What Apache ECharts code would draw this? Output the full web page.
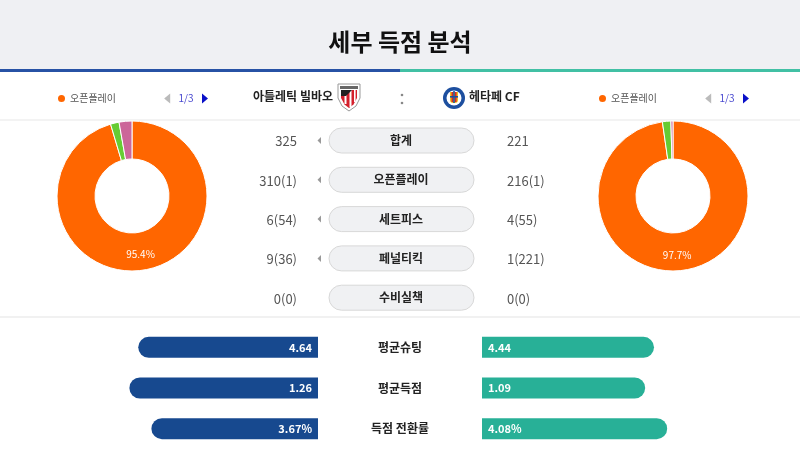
<!DOCTYPE html>
<html>
<head>
<meta charset="utf-8">
<script src="https://cdn.jsdelivr.net/npm/echarts@6/dist/echarts.min.js"></script>
<style>
html,body{margin:0;padding:0;background:#fff}
#main{width:800px;height:450px}
</style>
</head>
<body>
<div id="main"></div>
<script>
var FONT = "'Noto Sans CJK KR', 'Noto Sans', sans-serif";

var titleText = '세부 득점 분석';
var homeName = '아틀레틱 빌바오';
var awayName = '헤타페 CF';

// 도넛 차트 (득점 유형)
var pieCategories = ['오픈플레이', '세트피스', '페널티킥'];
var pieColors = ['#ff6600', '#66cc33', '#cc6699'];
var homePie = [310, 6, 9];
var awayPie = [216, 4, 1];

// 가운데 표
var statLabels = ['합계', '오픈플레이', '세트피스', '페널티킥', '수비실책'];
var homeStats = ['325', '310(1)', '6(54)', '9(36)', '0(0)'];
var awayStats = ['221', '216(1)', '4(55)', '1(221)', '0(0)'];

// 하단 막대
var barCategories = ['평균슈팅', '평균득점', '득점 전환률'];
var homeAvg = [4.64, 1.26, 3.67];
var awayAvg = [4.44, 1.09, 4.08];
var avgUnits = ['', '', '%'];

var chart = echarts.init(document.getElementById('main'));

function pieData(vals){
  return pieCategories.map(function(n, i){ return {name: n, value: vals[i], itemStyle: {color: pieColors[i]}}; });
}
function share(a, b){ return a.map(function(v, i){ return v / (v + b[i]); }); }

function pieSeries(vals, cx){
  return {
    type: 'pie', center: [cx, 196], radius: [37, 75], startAngle: 90,
    silent: true, avoidLabelOverlap: false,
    itemStyle: {borderColor: '#fff', borderWidth: 1},
    label: {
      show: true, position: 'inside', color: '#fff', fontSize: 10, fontFamily: FONT,
      formatter: function(p){ return p.percent > 5 ? p.percent.toFixed(1) + '%' : ''; }
    },
    labelLine: {show: false},
    data: pieData(vals)
  };
}

function legendAt(left){
  return {
    type: 'scroll', orient: 'horizontal', left: left, top: 93, width: 152, padding: 0,
    data: pieCategories, icon: 'circle', itemWidth: 9, itemHeight: 9, itemGap: 90,
    textStyle: {fontSize: 10, color: '#555', fontFamily: FONT, padding: [0, 0, 0, -1]},
    pageIconSize: 10, pageButtonItemGap: 4, pageButtonGap: 6,
    pageIconColor: '#0a10c8', pageIconInactiveColor: '#bbb',
    pageTextStyle: {color: '#4a4ad0', fontSize: 10, fontFamily: FONT},
    selectedMode: false
  };
}

// 배경, 제목, 팀 정보, 표
var graphics = [
  {type: 'rect', shape: {x: 0, y: 0, width: 800, height: 69}, style: {fill: '#eff0f3'}, silent: true},
  {type: 'text', x: 400, y: 42, silent: true,
   style: {text: titleText, fill: '#111', font: 'bold 24px ' + FONT, align: 'center', verticalAlign: 'middle'}},
  {type: 'rect', shape: {x: 0, y: 69, width: 400, height: 3}, style: {fill: '#2752a5'}, silent: true},
  {type: 'rect', shape: {x: 400, y: 69, width: 400, height: 3}, style: {fill: '#41c0a4'}, silent: true},
  {type: 'rect', shape: {x: 0, y: 119, width: 800, height: 2}, style: {fill: '#f3f3f3'}, silent: true},
  {type: 'rect', shape: {x: 0, y: 316, width: 800, height: 2}, style: {fill: '#f1f1f1'}, silent: true},
  {type: 'text', x: 333, y: 96, silent: true,
   style: {text: homeName, fill: '#222', font: 'bold 12px ' + FONT, align: 'right', verticalAlign: 'middle'}},
  {type: 'text', x: 469, y: 96, silent: true,
   style: {text: awayName, fill: '#222', font: 'bold 12px ' + FONT, align: 'left', verticalAlign: 'middle'}},
  {type: 'circle', shape: {cx: 402, cy: 95, r: 1.3}, style: {fill: '#888'}, silent: true},
  {type: 'circle', shape: {cx: 402, cy: 103, r: 1.3}, style: {fill: '#888'}, silent: true},
  // 아틀레틱 엠블럼
  {type: 'polygon', silent: true, shape: {points: [[338,84],[360,84],[360,98],[356,106],[349,111],[342,106],[338,98]]},
   style: {fill: '#fff', stroke: '#999', lineWidth: 1}},
  {type: 'rect', silent: true, shape: {x: 340, y: 86, width: 18, height: 3}, style: {fill: '#666'}},
  {type: 'polygon', silent: true, shape: {points: [[341,90],[357,90],[357,98],[353.5,104.5],[349,108],[344.5,104.5],[341,98]]},
   style: {fill: '#d4202c'}},
  {type: 'rect', silent: true, shape: {x: 344.5, y: 90, width: 2, height: 14}, style: {fill: '#fff'}},
  {type: 'rect', silent: true, shape: {x: 349.5, y: 90, width: 2, height: 17}, style: {fill: '#fff'}},
  {type: 'rect', silent: true, shape: {x: 354, y: 90, width: 1.6, height: 12}, style: {fill: '#fff'}},
  {type: 'polygon', silent: true, shape: {points: [[341,90],[352,90],[346,96],[341,96]]}, style: {fill: '#222'}},
  // 헤타페 엠블럼
  {type: 'circle', silent: true, shape: {cx: 454, cy: 98, r: 11}, style: {fill: '#1d4f9f'}},
  {type: 'circle', silent: true, shape: {cx: 454, cy: 98, r: 7.5}, style: {fill: '#fff'}},
  {type: 'rect', silent: true, shape: {x: 450, y: 92, width: 8, height: 11, r: [0,0,3,3]}, style: {fill: '#f2c31a'}},
  {type: 'rect', silent: true, shape: {x: 451.5, y: 92, width: 1.6, height: 10}, style: {fill: '#d42a2a'}},
  {type: 'rect', silent: true, shape: {x: 455, y: 92, width: 1.6, height: 10}, style: {fill: '#d42a2a'}},
  {type: 'rect', silent: true, shape: {x: 453.2, y: 91, width: 1.6, height: 12}, style: {fill: '#1d4f9f'}},
  {type: 'rect', silent: true, shape: {x: 450, y: 96, width: 8, height: 1.6}, style: {fill: '#1d4f9f'}}
];

statLabels.forEach(function(lab, i){
  var y = 140.5 + i * 39.3;
  graphics.push(
    {type: 'rect', silent: true, shape: {x: 329, y: y - 12.5, width: 145, height: 25, r: 12.5},
     style: {fill: '#f0f1f3', stroke: '#d8d8d8', lineWidth: 1}},
    {type: 'text', silent: true, x: 401, y: y,
     style: {text: lab, fill: '#222', font: 'bold 12px ' + FONT, align: 'center', verticalAlign: 'middle'}},
    {type: 'text', silent: true, x: 297, y: y + 1,
     style: {text: homeStats[i], fill: '#555', font: '13px ' + FONT, align: 'right', verticalAlign: 'middle'}},
    {type: 'text', silent: true, x: 507, y: y + 1,
     style: {text: awayStats[i], fill: '#555', font: '13px ' + FONT, align: 'left', verticalAlign: 'middle'}}
  );
  if (parseInt(homeStats[i], 10) > parseInt(awayStats[i], 10)) {
    graphics.push({type: 'polygon', silent: true, shape: {points: [[321, y - 3.5], [321, y + 3.5], [317.5, y]]},
      style: {fill: '#999'}});
  }
});

var option = {
  animation: false,
  backgroundColor: '#fff',
  textStyle: {fontFamily: FONT},
  graphic: graphics,
  legend: [legendAt(56), legendAt(597)],
  grid: [
    {left: 121, top: 327, width: 197, height: 122},
    {left: 482, top: 327, width: 197, height: 122}
  ],
  xAxis: [
    {gridIndex: 0, type: 'value', min: 0, max: 0.56, inverse: true, show: false},
    {gridIndex: 1, type: 'value', min: 0, max: 0.56, show: false}
  ],
  yAxis: [
    {gridIndex: 0, type: 'category', data: barCategories, inverse: true, position: 'right',
     axisLine: {show: false}, axisTick: {show: false}, splitLine: {show: false},
     axisLabel: {margin: 82, align: 'center', fontWeight: 'bold', fontSize: 12, color: '#222', fontFamily: FONT}},
    {gridIndex: 1, type: 'category', data: barCategories, inverse: true, show: false}
  ],
  series: [
    pieSeries(homePie, 132),
    pieSeries(awayPie, 673),
    {
      type: 'bar', xAxisIndex: 0, yAxisIndex: 0, silent: true, barWidth: 21,
      data: share(homeAvg, awayAvg),
      itemStyle: {color: '#17498f', borderRadius: [10.5, 0, 0, 10.5]},
      label: {show: true, position: 'insideRight', distance: 6, color: '#fff', fontWeight: 'bold', fontSize: 11,
        formatter: function(p){ return homeAvg[p.dataIndex] + avgUnits[p.dataIndex]; }}
    },
    {
      type: 'bar', xAxisIndex: 1, yAxisIndex: 1, silent: true, barWidth: 21,
      data: share(awayAvg, homeAvg),
      itemStyle: {color: '#28b097', borderRadius: [0, 10.5, 10.5, 0]},
      label: {show: true, position: 'insideLeft', distance: 6, color: '#fff', fontWeight: 'bold', fontSize: 11,
        formatter: function(p){ return awayAvg[p.dataIndex] + avgUnits[p.dataIndex]; }}
    }
  ]
};
chart.setOption(option);
</script>
</body>
</html>
